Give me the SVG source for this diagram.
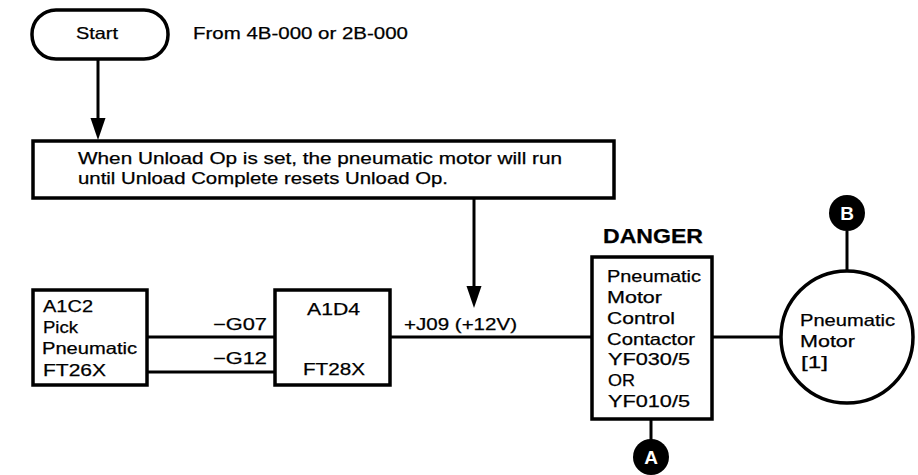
<svg xmlns="http://www.w3.org/2000/svg" width="918" height="475" viewBox="0 0 918 475">
<defs>
<marker id="ah" markerUnits="userSpaceOnUse" markerWidth="22" markerHeight="16" refX="0" refY="7.5" orient="auto" viewBox="0 0 22 15">
<path d="M0,0 L22,7.5 L0,15 z" fill="#000"/>
</marker>
</defs>
<style>
.box{fill:#fff;stroke:#000;stroke-width:3.5}
.ln{fill:none;stroke:#000;stroke-width:3}
.t{font-family:"Liberation Sans",Arial,Helvetica,sans-serif;font-size:16.5px;fill:#000;stroke:#000;stroke-width:0.25}
.b{font-weight:bold;font-size:20px}
.dot{fill:#000}
.dt{font-family:"Liberation Sans",Arial,sans-serif;font-weight:bold;font-size:19px;fill:#fff;text-anchor:middle}
</style>
<rect width="918" height="475" fill="#fff"/>
<g id="connectors">
<path class="ln" d="M98,59 V118" marker-end="url(#ah)"/>
<path class="ln" d="M474,198 V286" marker-end="url(#ah)"/>
<path class="ln" d="M147,337 H275"/>
<path class="ln" d="M147,372 H275"/>
<path class="ln" d="M390,337 H592"/>
<path class="ln" d="M712,337 H781"/>
<path class="ln" d="M651,419 V440"/>
<path class="ln" d="M847,231 V271"/>
<text class="t" x="213" y="330" textLength="54" lengthAdjust="spacingAndGlyphs">−G07</text>
<text class="t" x="213" y="364" textLength="54" lengthAdjust="spacingAndGlyphs">−G12</text>
<text class="t" x="404" y="330" textLength="113" lengthAdjust="spacingAndGlyphs">+J09 (+12V)</text>
</g>
<g id="start">
<rect class="box" x="32" y="10" width="136" height="49" rx="24" ry="24" stroke-width="4"/>
<text class="t" x="76" y="39" textLength="42" lengthAdjust="spacingAndGlyphs">Start</text>
<text class="t" x="193" y="39" textLength="215" lengthAdjust="spacingAndGlyphs">From 4B-000 or 2B-000</text>
</g>
<g id="unload">
<rect class="box" x="33" y="141" width="581" height="57"/>
<text class="t" x="78" y="164" textLength="484" lengthAdjust="spacingAndGlyphs">When Unload Op is set, the pneumatic motor will run</text>
<text class="t" x="78" y="184" textLength="370" lengthAdjust="spacingAndGlyphs">until Unload Complete resets Unload Op.</text>
</g>
<g id="a1c2">
<rect class="box" x="33" y="290" width="114" height="95"/>
<text class="t" x="43" y="312" textLength="50" lengthAdjust="spacingAndGlyphs">A1C2</text>
<text class="t" x="43" y="333" textLength="35" lengthAdjust="spacingAndGlyphs">Pick</text>
<text class="t" x="42" y="354" textLength="95" lengthAdjust="spacingAndGlyphs">Pneumatic</text>
<text class="t" x="43" y="376" textLength="63" lengthAdjust="spacingAndGlyphs">FT26X</text>
</g>
<g id="a1d4">
<rect class="box" x="275" y="290" width="115" height="95"/>
<text class="t" x="307" y="315" textLength="53" lengthAdjust="spacingAndGlyphs">A1D4</text>
<text class="t" x="303" y="375" textLength="62" lengthAdjust="spacingAndGlyphs">FT28X</text>
</g>
<g id="contactor">
<text class="t b" x="603" y="243" textLength="100" lengthAdjust="spacingAndGlyphs">DANGER</text>
<rect class="box" x="592" y="257" width="120" height="162"/>
<text class="t" x="607" y="282" textLength="94" lengthAdjust="spacingAndGlyphs">Pneumatic</text>
<text class="t" x="607" y="303" textLength="55" lengthAdjust="spacingAndGlyphs">Motor</text>
<text class="t" x="607" y="324" textLength="68" lengthAdjust="spacingAndGlyphs">Control</text>
<text class="t" x="607" y="345" textLength="88" lengthAdjust="spacingAndGlyphs">Contactor</text>
<text class="t" x="608" y="365" textLength="82" lengthAdjust="spacingAndGlyphs">YF030/5</text>
<text class="t" x="608" y="386" textLength="27" lengthAdjust="spacingAndGlyphs">OR</text>
<text class="t" x="608" y="407" textLength="82" lengthAdjust="spacingAndGlyphs">YF010/5</text>
</g>
<g id="motor">
<circle class="box" cx="847" cy="337" r="66"/>
<text class="t" x="800" y="326" textLength="95" lengthAdjust="spacingAndGlyphs">Pneumatic</text>
<text class="t" x="800" y="347" textLength="55" lengthAdjust="spacingAndGlyphs">Motor</text>
<text class="t" x="801" y="368" textLength="27" lengthAdjust="spacingAndGlyphs">[1]</text>
</g>
<g id="conn-a">
<circle class="dot" cx="651" cy="457" r="18"/>
<text class="dt" x="651" y="464">A</text>
</g>
<g id="conn-b">
<circle class="dot" cx="847" cy="213" r="18"/>
<text class="dt" x="847" y="220">B</text>
</g>
</svg>
